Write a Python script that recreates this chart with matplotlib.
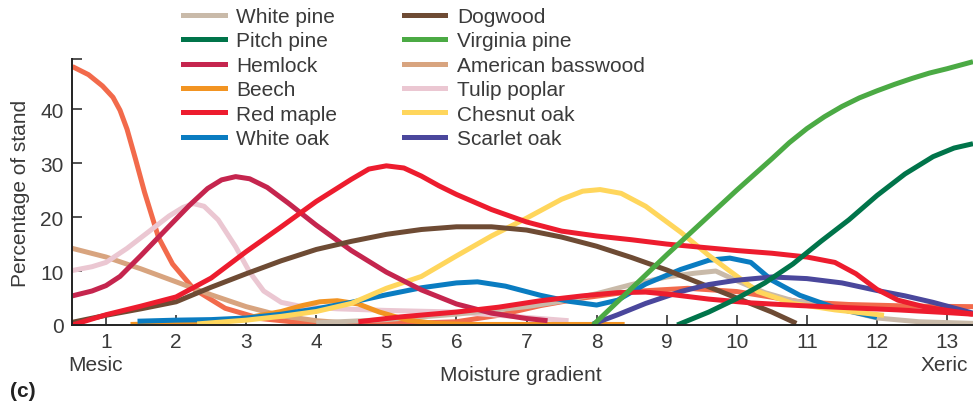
import matplotlib
matplotlib.use("Agg")
import matplotlib.pyplot as plt

plt.rcParams["font.family"] = ["Liberation Sans", "DejaVu Sans"]
TXT = "#3a3a3a"

# species curves (moisture gradient, % of stand)
white_pine_x = [4.0, 5.0, 6.0, 7.0, 7.5, 8.0, 8.5, 9.0, 9.4, 9.7, 10.0, 10.4, 10.8, 11.3, 12.0, 12.6, 13.37]
white_pine_y = [0.4, 1.0, 2.0, 3.4, 4.4, 5.8, 7.5, 8.9, 9.6, 10.0, 8.2, 6.0, 4.5, 3.5, 1.3, 0.6, 0.3]

pitch_pine_x = [9.15, 9.6, 10.0, 10.4, 10.8, 11.2, 11.6, 12.0, 12.4, 12.8, 13.1, 13.37]
pitch_pine_y = [0, 2.4, 4.9, 7.8, 11.3, 15.5, 19.5, 24.0, 28.0, 31.2, 32.8, 33.6]

hemlock_x = [0.52, 0.8, 1.0, 1.2, 1.5, 1.9, 2.2, 2.45, 2.65, 2.85, 3.05, 3.3, 3.6, 4.0, 4.5, 5.0, 5.5,
             6.0, 6.5, 7.0, 7.3]
hemlock_y = [5.4, 6.3, 7.3, 9.0, 12.9, 18.3, 22.3, 25.3, 26.9, 27.5, 27.1, 25.5, 22.6, 18.5, 13.8, 9.8, 6.5,
             3.9, 2.2, 1.2, 0.8]

beech_x = [1.35, 2.0, 2.5, 3.0, 3.5, 3.8, 4.05, 4.3, 4.6, 4.9, 5.3, 5.7, 6.2, 7.0, 8.4]
beech_y = [0.1, 0.3, 0.6, 1.3, 2.5, 3.6, 4.3, 4.5, 3.9, 2.4, 0.9, 0.3, 0.1, 0.1, 0.1]

red_maple_x = [0.52, 1.0, 1.5, 2.0, 2.5, 3.0, 3.5, 4.0, 4.5, 4.75, 5.0, 5.25, 5.5, 5.75, 6.0, 6.5, 7.0,
               7.5, 8.0, 8.5, 9.0, 9.5, 10.0, 10.5, 11.0, 11.4, 11.7, 12.0, 12.3, 12.7, 13.37]
red_maple_y = [0, 1.9, 3.5, 5.2, 8.7, 13.6, 18.2, 22.9, 27.0, 28.9, 29.5, 29.1, 27.6, 25.8, 24.2, 21.4, 19.1,
               17.4, 16.5, 15.8, 15.0, 14.4, 13.8, 13.3, 12.6, 11.6, 9.5, 6.6, 4.6, 3.3, 2.0]

white_oak_x = [1.45, 2.0, 2.5, 3.0, 3.5, 4.0, 4.5, 5.0, 5.5, 6.0, 6.3, 6.7, 7.2, 7.6, 8.0, 8.3, 8.7,
               9.2, 9.6, 9.9, 10.2, 10.5, 10.9, 11.4, 12.0]
white_oak_y = [0.7, 0.9, 1.0, 1.3, 2.0, 3.0, 4.2, 5.6, 6.9, 7.8, 8.0, 7.2, 5.5, 4.4, 3.7, 4.6, 7.6,
               10.3, 12.0, 12.4, 11.6, 8.3, 5.5, 3.2, 1.4]

dogwood_x = [0.52, 1.0, 1.5, 2.0, 2.5, 3.0, 3.5, 4.0, 4.5, 5.0, 5.5, 6.0, 6.5, 7.0, 7.5, 8.0, 8.5,
             9.0, 9.5, 10.0, 10.5, 10.85]
dogwood_y = [0.5, 1.8, 3.0, 4.3, 7.0, 9.5, 11.9, 14.0, 15.5, 16.8, 17.7, 18.2, 18.2, 17.6, 16.3, 14.6, 12.5,
             10.2, 7.6, 5.0, 2.4, 0.3]

virginia_pine_x = [7.95, 8.5, 9.0, 9.5, 10.0, 10.5, 10.75, 11.0, 11.25, 11.5, 11.75, 12.0, 12.25, 12.5,
                   12.75, 13.0, 13.37]
virginia_pine_y = [0, 6.8, 13.0, 19.0, 25.0, 30.8, 33.8, 36.4, 38.6, 40.5, 42.1, 43.4, 44.6, 45.7,
                   46.7, 47.5, 48.8]

basswood_x = [0.52, 1.0, 1.5, 2.0, 2.5, 3.0, 3.5, 4.0, 4.4]
basswood_y = [14.2, 12.6, 10.4, 8.0, 5.6, 3.4, 1.7, 0.8, 0.4]

tulip_x = [0.52, 0.8, 1.0, 1.3, 1.6, 1.9, 2.1, 2.25, 2.4, 2.6, 2.85, 3.05, 3.25, 3.5, 3.8, 4.3, 5.0,
           6.0, 6.8, 7.6]
tulip_y = [10.1, 10.8, 11.6, 14.2, 17.2, 20.2, 21.8, 22.5, 22.0, 19.5, 14.5, 9.8, 6.3, 4.2, 3.4, 3.0, 2.7,
           2.4, 1.6, 0.8]

chesnut_x = [2.3, 3.0, 3.5, 4.0, 4.5, 5.0, 5.5, 6.0, 6.5, 7.0, 7.5, 7.8, 8.05, 8.35, 8.7, 9.2, 9.6,
             9.9, 10.3, 10.8, 11.4, 12.1]
chesnut_y = [0.2, 0.9, 1.6, 2.5, 4.0, 6.8, 9.0, 12.8, 16.5, 19.8, 23.3, 24.8, 25.1, 24.4, 22.0, 17.2, 12.9,
             10.0, 6.2, 4.0, 2.8, 1.8]

scarlet_x = [7.95, 8.3, 8.7, 9.2, 9.6, 10.0, 10.5, 11.0, 11.5, 12.0, 12.4, 12.8, 13.37]
scarlet_y = [0.2, 1.9, 4.0, 6.2, 7.5, 8.3, 8.9, 8.6, 7.8, 6.4, 5.4, 4.2, 2.2]

# two unlabelled curves in the figure
coral_x = [0.52, 0.75, 0.95, 1.1, 1.2, 1.3, 1.42, 1.55, 1.75, 1.95, 2.25, 2.7, 3.2, 3.8, 4.5, 5.3, 6.0,
           6.6, 7.2, 7.8, 8.5, 9.3, 10.0, 10.9, 11.6, 12.5, 13.37]
coral_y = [47.9, 46.4, 44.3, 42.2, 39.8, 36.3, 30.8, 24.6, 16.2, 11.3, 6.7, 3.1, 1.2, 0.4, 0.2, 0.3, 0.6,
           1.8, 3.6, 5.0, 6.2, 6.8, 6.2, 4.3, 3.8, 3.5, 3.4]
red2_x = [4.6, 5.2, 6.0, 6.6, 7.2, 7.8, 8.3, 8.7, 9.1, 9.6, 10.2, 10.9, 11.6, 12.3, 13.0, 13.37]
red2_y = [0.6, 1.5, 2.4, 3.3, 4.5, 5.4, 6.0, 6.1, 5.6, 4.8, 4.1, 3.6, 3.2, 2.8, 2.3, 2.0]

x_ticks = list(range(1, 14))
y_ticks = [0, 10, 20, 30, 40]
y_top = 49.3

fig = plt.figure(figsize=(9.73, 4.06), dpi=100)
ax = fig.add_axes([72 / 973, 80 / 406, 901 / 973, 266 / 406])

lw = 3.6
style = dict(lw=lw, solid_capstyle="butt", solid_joinstyle="round")
ax.plot(coral_x, coral_y, color="#F26A4B", **style)
ax.plot(basswood_x, basswood_y, color="#D8A47F", **style)
ax.plot(tulip_x, tulip_y, color="#EBC7D2", **style)
ax.plot(white_pine_x, white_pine_y, color="#C9BAA9", **style)
ax.plot(beech_x, beech_y, color="#F29422", **style)
ax.plot(white_oak_x, white_oak_y, color="#0A7CC1", **style)
ax.plot(chesnut_x, chesnut_y, color="#FFD65C", **style)
ax.plot(hemlock_x, hemlock_y, color="#C5254E", **style)
ax.plot(dogwood_x, dogwood_y, color="#6E4B34", **style)
ax.plot(scarlet_x, scarlet_y, color="#4A479C", **style)
ax.plot(red2_x, red2_y, color="#ED1C2E", **style)
ax.plot(red_maple_x, red_maple_y, color="#ED1C2E", **style)
ax.plot(virginia_pine_x, virginia_pine_y, color="#4BAA44", **style)
ax.plot(pitch_pine_x, pitch_pine_y, color="#00744A", **style)

# legend entries in the figure's order
names = ["White pine", "Pitch pine", "Hemlock", "Beech", "Red maple", "White oak",
         "Dogwood", "Virginia pine", "American basswood", "Tulip poplar", "Chesnut oak", "Scarlet oak"]
colors = ["#C9BAA9", "#00744A", "#C5254E", "#F29422", "#ED1C2E", "#0A7CC1",
          "#6E4B34", "#4BAA44", "#D8A47F", "#EBC7D2", "#FFD65C", "#4A479C"]
handles = [plt.Line2D([], [], color=c, lw=lw) for c in colors]
leg = ax.legend(handles, names, loc="upper left", bbox_to_anchor=(183 / 973, 1 - 8 / 406),
                bbox_transform=fig.transFigure, ncol=2, frameon=False, fontsize=15,
                handlelength=2.0, handletextpad=0.55, columnspacing=3.2, labelspacing=0.26,
                borderpad=0, borderaxespad=0)
for t in leg.get_texts():
    t.set_color(TXT)

ax.set_xlim(0.515, 13.37)
ax.set_ylim(0, y_top)
ax.set_xticks(x_ticks)
ax.set_yticks(y_ticks)
ax.set_yticks([y_top], minor=True)  # small cap at the top of the y axis
ax.tick_params(direction="in", length=7, width=1.1, colors="#222222", labelsize=15,
               labelcolor=TXT)
ax.tick_params(axis="y", which="minor", direction="in", length=7, width=1.1, colors="#222222")
ax.tick_params(axis="x", pad=5)
ax.tick_params(axis="y", pad=6)
for s in ["top", "right"]:
    ax.spines[s].set_visible(False)
for s in ["left", "bottom"]:
    ax.spines[s].set_linewidth(1.4)
    ax.spines[s].set_color("#222222")

ax.set_ylabel("Percentage of stand", fontsize=15, color=TXT)
ax.yaxis.set_label_coords(-0.047, 0.5)

fig.text(96 / 973, 1 - 366 / 406, "Mesic", fontsize=15, color=TXT, ha="center", va="center")
fig.text(944 / 973, 1 - 366 / 406, "Xeric", fontsize=15, color=TXT, ha="center", va="center")
fig.text(521 / 973, 1 - 376 / 406, "Moisture gradient", fontsize=15, color=TXT, ha="center", va="center")
fig.text(10 / 973, 1 - 392 / 406, "(c)", fontsize=15, color="#222222", fontweight="bold",
         ha="left", va="center")

fig.savefig("out.png", dpi=100)
